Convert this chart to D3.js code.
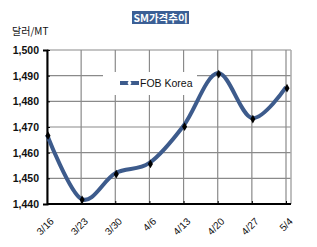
<!DOCTYPE html>
<html>
<head>
<meta charset="utf-8">
<script src="https://cdn.jsdelivr.net/npm/d3@7"></script>
<style>
  body { margin: 0; background: #fff; }
  svg { display: block; font-family: "Liberation Sans", Arial, sans-serif; }
</style>
</head>
<body>
<div id="chart"></div>
<script>
// SM price trend — weekly FOB Korea, USD/MT
const weeks  = ['3/16', '3/23', '3/30', '4/6', '4/13', '4/20', '4/27', '5/4'];
const prices = [1467, 1442, 1452, 1456, 1470.5, 1491, 1473.5, 1485.5];
const yTicks = [1440, 1450, 1460, 1470, 1480, 1490, 1500];

const W = 317, H = 247;
const plot = { left: 47, right: 291, top: 50, bottom: 204 };

const svg = d3.select('#chart').append('svg')
  .attr('width', W).attr('height', H);

const x = d3.scalePoint().domain(weeks).range([plot.left, 286]);
const y = d3.scaleLinear().domain([1440, 1500]).range([plot.bottom, plot.top]);

// grid
const grid = svg.append('g');
grid.selectAll('line.h').data(yTicks).join('line')
  .attr('x1', plot.left).attr('x2', plot.right)
  .attr('y1', d => y(d)).attr('y2', d => y(d))
  .attr('stroke', '#8a8a8a').attr('stroke-width', 1.2);
grid.selectAll('line.v').data(weeks).join('line')
  .attr('x1', d => x(d)).attr('x2', d => x(d))
  .attr('y1', plot.top).attr('y2', plot.bottom)
  .attr('stroke', '#8a8a8a').attr('stroke-width', 1.2);
grid.append('line')
  .attr('x1', plot.right).attr('x2', plot.right)
  .attr('y1', plot.top).attr('y2', plot.bottom)
  .attr('stroke', '#aaa').attr('stroke-width', 1.5);

// legend box covers the grid
svg.append('rect')
  .attr('x', 103).attr('y', 72).attr('width', 94).attr('height', 23)
  .attr('fill', '#fff');
svg.append('line')
  .attr('x1', 120).attr('x2', 139).attr('y1', 83).attr('y2', 83)
  .attr('stroke', '#3d5b8c').attr('stroke-width', 4);
svg.append('path')
  .attr('d', d3.symbol(d3.symbolDiamond, 14)())
  .attr('transform', 'translate(129.5,83)')
  .attr('fill', '#fff');
svg.append('text')
  .attr('x', 140).attr('y', 87)
  .attr('font-size', 10.5).attr('fill', '#111')
  .text('FOB Korea');

// axes
const yAxis = d3.axisLeft(y).tickValues(yTicks).tickSize(4)
  .tickFormat(d3.format(','));
svg.append('g').attr('transform', `translate(${plot.left},0)`).call(yAxis)
  .call(g => g.select('.domain').attr('stroke', '#000').attr('stroke-width', 2))
  .call(g => g.selectAll('.tick line').attr('x1', 0).attr('x2', 3).attr('stroke', '#000'))
  .call(g => g.selectAll('.tick text')
    .attr('x', -8).attr('font-size', 10.5).attr('font-weight', 'bold').attr('fill', '#111'));

const xAxis = d3.axisBottom(x).tickSize(0);
svg.append('g').attr('transform', `translate(0,${plot.bottom})`).call(xAxis)
  .call(g => g.select('.domain').attr('d', `M${plot.left},0H${plot.right}`)
    .attr('stroke', '#000').attr('stroke-width', 2))
  .call(g => g.selectAll('.tick').append('line')
    .attr('y1', 0).attr('y2', -3).attr('stroke', '#000'))
  .call(g => g.selectAll('.tick text')
    .attr('font-size', 10).attr('fill', '#111')
    .attr('text-anchor', 'end').attr('dy', 0).attr('y', 0)
    .attr('transform', 'translate(7,18) rotate(-45)'));

// series
const line = d3.line()
  .x((d, i) => x(weeks[i]))
  .y(d => y(d))
  .curve(d3.curveCardinal.tension(0));
svg.append('path').datum(prices)
  .attr('d', line)
  .attr('fill', 'none').attr('stroke', '#3d5b8c')
  .attr('stroke-width', 4).attr('stroke-linejoin', 'round');
svg.selectAll('path.mk').data(prices).join('path')
  .attr('class', 'mk')
  .attr('d', d3.symbol(d3.symbolDiamond, 22)())
  .attr('transform', (d, i) => `translate(${x(weeks[i]) + 1},${y(d) + 1})`)
  .attr('fill', '#000');

// title & unit
svg.append('rect')
  .attr('x', 132).attr('y', 11).attr('width', 57).attr('height', 13)
  .attr('fill', '#3b5f95');
svg.append('text')
  .attr('x', 160.5).attr('y', 21.5).attr('text-anchor', 'middle')
  .attr('font-size', 10.5).attr('font-weight', 'bold').attr('fill', '#fff')
  .attr('font-family', '"Noto Sans CJK KR", sans-serif')
  .text('SM가격추이');
svg.append('text')
  .attr('x', 12).attr('y', 35)
  .attr('font-size', 10).attr('fill', '#111')
  .attr('font-family', '"Noto Sans CJK KR", sans-serif')
  .text('달러/MT');
</script>
</body>
</html>
